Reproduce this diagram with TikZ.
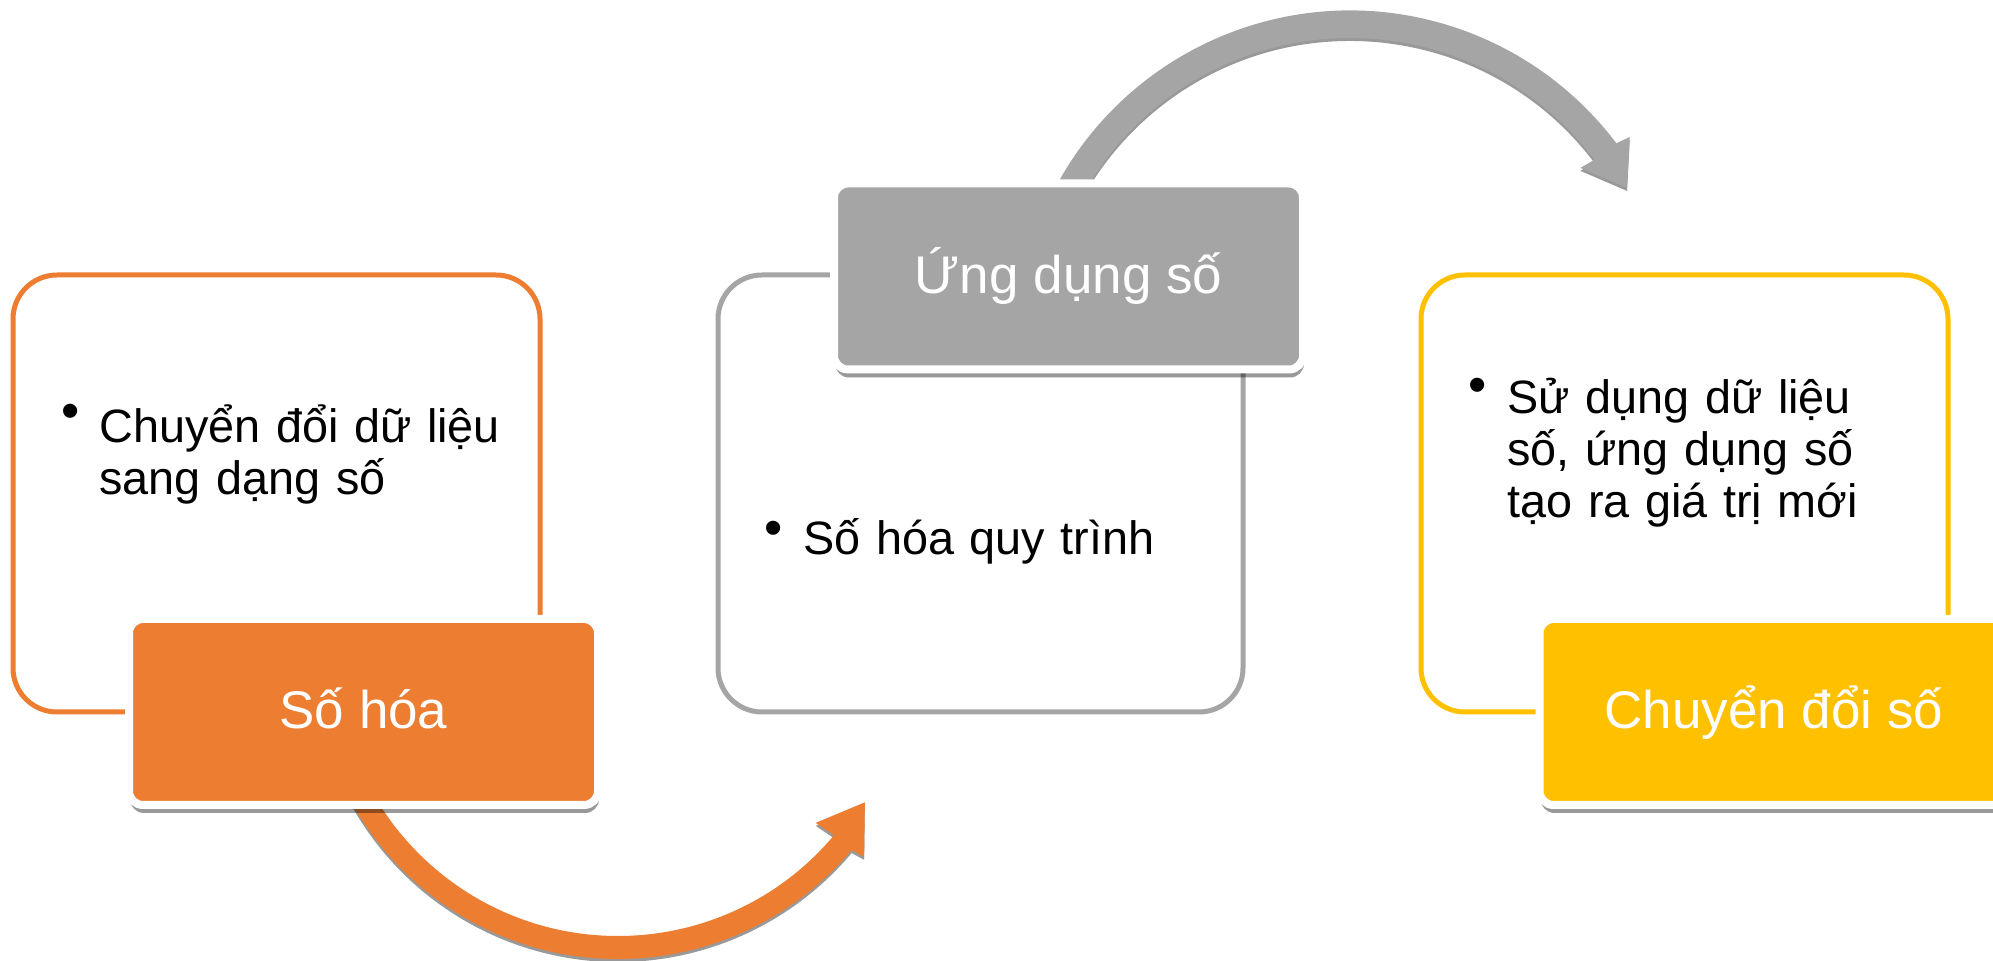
\documentclass[tikz,border=0pt]{standalone}
\usepackage{fontspec}
\setmainfont{Liberation Sans}
\usetikzlibrary{shadows}
\definecolor{accorange}{HTML}{ED7D31}
\definecolor{accgray}{HTML}{A5A5A5}
\definecolor{accgold}{HTML}{FFC000}
\newcommand{\bodyfont}{\fontsize{23.4}{25.8}\selectfont\lineskiplimit-100pt\relax}

\begin{document}
\begin{tikzpicture}[x=0.5pt,y=-0.5pt,line join=round,
  frame/.style={line width=2.5pt,rounded corners=22pt},
  stagebox/.style={draw=white,line width=4pt,rounded corners=7pt,minimum width=234.5pt,minimum height=93pt,
    inner sep=0pt,text=white,text height=17pt,text depth=0pt,font=\fontsize{26.5}{30}\selectfont,
    drop shadow={shadow xshift=0.5pt,shadow yshift=-4pt,opacity=0.4,fill=black}},
  bodytext/.style={anchor=base west,inner sep=0pt,text width=300pt,align=left,font=\bodyfont},
  dot/.style={inner sep=0pt,font=\fontsize{26}{26}\selectfont},
  arcshadow/.style={drop shadow={shadow xshift=0pt,shadow yshift=-1.5pt,opacity=0.4,fill=black}}]
\clip (0,0) rectangle (1993,961);
\fill[white] (0,0) rectangle (1993,961);

% curved arrows
\coordinate (oc) at (618,654);
\coordinate (gc) at (1350,344);
\begin{scope}[shift={(oc)}]
\fill[accorange,arcshadow] (165:305) arc[start angle=165,end angle=40,radius=305]
    -- (39.5:319) -- (31:288) -- (40.5:260) -- (40:282)
    arc[start angle=40,end angle=165,radius=282] -- cycle;
\end{scope}
\begin{scope}[shift={(gc)}]
\fill[accgray,arcshadow] (-160:333.5) arc[start angle=-160,end angle=-37,radius=333.5]
    -- (-36.5:348) -- (-29.4:318) -- (-37.4:290) -- (-37:306)
    arc[start angle=-37,end angle=-160,radius=306] -- cycle;
\end{scope}

% frames
\draw[frame,accorange] (13,275) rectangle (540,712);
\draw[frame,accgray] (718,275) rectangle (1243,712);
\draw[frame,accgold] (1421,275) rectangle (1948,712);

% texts
\node[dot] (b1) at (71,416) {•};
\node[bodytext] (t1) at (99,443) {Chuyển đổi dữ liệu\\sang dạng số};
\node[dot] (b2) at (774,533) {•};
\node[bodytext] (t2) at (803,555) {Số hóa quy trình};
\node[dot] (b3) at (1478,390) {•};
\node[bodytext] (t3) at (1507,414) {Sử dụng dữ liệu\\số, ứng dụng số\\tạo ra giá trị mới};

% stages
\node[stagebox,fill=accorange] (s1) at (363.5,712) {Số hóa};
\node[stagebox,fill=accgray] (s2) at (1068.5,276.5) {Ứng dụng số};
\node[stagebox,fill=accgold] (s3) at (1774,712) {Chuyển đổi số};
\end{tikzpicture}
\end{document}
